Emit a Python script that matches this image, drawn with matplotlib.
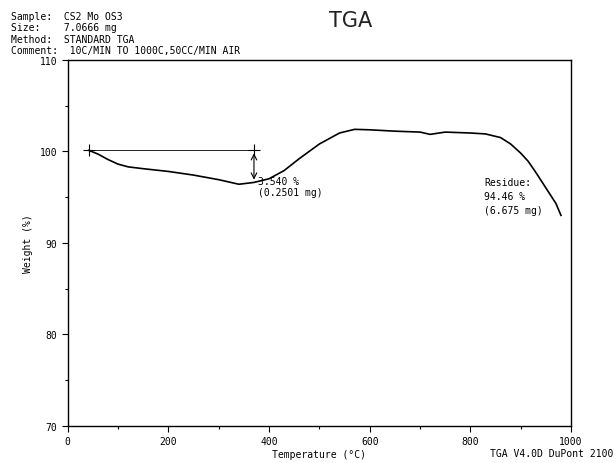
import matplotlib
matplotlib.use("Agg")
import matplotlib.pyplot as plt
from matplotlib.ticker import MultipleLocator

# ----------------------------
# DATA
# ----------------------------
temp = [42, 60, 80, 100, 120, 150, 200, 250, 300, 340, 370, 400, 430,
        460, 500, 540, 570, 600, 650, 700, 720, 750, 800, 830, 860,
        880, 900, 915, 930, 950, 970, 980]
weight = [100.1, 99.7, 99.1, 98.6, 98.3, 98.1, 97.8, 97.4, 96.9, 96.4,
          96.6, 97.0, 97.9, 99.2, 100.8, 102.0, 102.4, 102.35, 102.2,
          102.1, 101.85, 102.1, 102.0, 101.9, 101.5, 100.8, 99.8, 98.9,
          97.7, 96.0, 94.3, 93.0]

step_start = 42
step_end = 370
step_top = 100.1
step_bottom = 96.6

header = ["Sample:  CS2 Mo OS3",
          "Size:    7.0666 mg",
          "Method:  STANDARD TGA",
          "Comment:  10C/MIN TO 1000C,50CC/MIN AIR"]

mono = "DejaVu Sans Mono"

fig = plt.figure(figsize=(6.16, 4.64), dpi=100)
ax = fig.add_axes([0.110, 0.080, 0.817, 0.789])

ax.plot(temp, weight, color="black", lw=1.2)

# step marker
ax.plot([step_start, step_end], [step_top, step_top], color="black", lw=0.6)
ax.plot([step_start, step_end], [step_top, step_top], "k+", ms=8, mew=0.8)
ax.annotate("", xy=(step_end, step_bottom), xytext=(step_end, step_top),
            arrowprops=dict(arrowstyle="<->", color="black", lw=0.8))
ax.text(378, 97.3, "3.540 %\n(0.2501 mg)", family=mono, fontsize=7,
        va="top", linespacing=1.1)
ax.text(828, 97.2, "Residue:\n94.46 %\n(6.675 mg)", family=mono, fontsize=7,
        va="top", linespacing=1.5)

ax.set_xlim(0, 1000)
ax.set_ylim(70, 110)
ax.xaxis.set_major_locator(MultipleLocator(200))
ax.xaxis.set_minor_locator(MultipleLocator(100))
ax.yaxis.set_major_locator(MultipleLocator(10))
ax.yaxis.set_minor_locator(MultipleLocator(5))
ax.tick_params(which="both", direction="out", labelsize=7, width=0.8)
ax.tick_params(which="major", length=4)
ax.tick_params(which="minor", length=2.5)
for lab in ax.get_xticklabels() + ax.get_yticklabels():
    lab.set_family(mono)
for s in ax.spines.values():
    s.set_linewidth(1.0)

ax.set_xlabel("Temperature (°C)", family=mono, fontsize=7, labelpad=2)
ax.set_ylabel("Weight (%)", family=mono, fontsize=7)
ax.yaxis.set_label_coords(-0.07, 0.5)

for i, line in enumerate(header):
    fig.text(0.018, 0.975 - i * 0.025, line, family=mono, fontsize=7,
             va="top")
fig.text(0.57, 0.955, "TGA", family="DejaVu Sans", fontsize=15,
         ha="center", va="center", color="#222222")
fig.text(0.995, 0.01, "TGA V4.0D DuPont 2100", family=mono, fontsize=7,
         ha="right", va="bottom")

fig.savefig("out.png", dpi=100)
